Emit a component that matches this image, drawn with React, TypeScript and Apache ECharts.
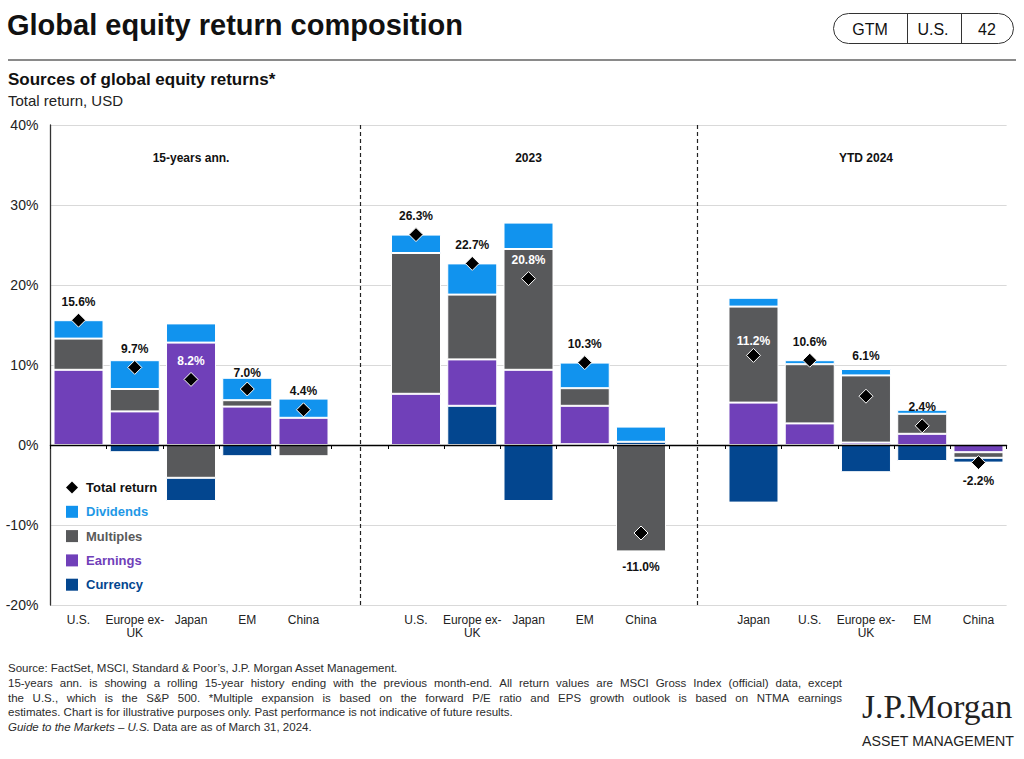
import React, { useEffect, useRef } from 'react';
import * as echarts from 'echarts';

// ---------- data ----------
const groupNames = ['15-years ann.', '2023', 'YTD 2024'];
const cats15 = ['U.S.', 'Europe ex-\nUK', 'Japan', 'EM', 'China'];
const cats2023 = ['U.S.', 'Europe ex-\nUK', 'Japan', 'EM', 'China'];
const catsYTD = ['Japan', 'U.S.', 'Europe ex-\nUK', 'EM', 'China'];

const currency15 = [0, -0.9, -2.9, -1.4, 0];
const earnings15 = [9.4, 4.2, 12.8, 4.8, 3.4];
const multiples15 = [3.9, 2.8, -4.1, 0.8, -1.4];
const dividends15 = [2.3, 3.6, 2.4, 2.8, 2.4];
const total15 = [15.6, 9.7, 8.2, 7.0, 4.4];

const currency2023 = [0, 4.9, -7.0, 0.1, 0.4];
const earnings2023 = [6.4, 5.8, 9.4, 4.8, 0];
const multiples2023 = [17.6, 8.1, 15.1, 2.2, -13.3];
const dividends2023 = [2.3, 3.9, 3.3, 3.2, 1.9];
const total2023 = [26.3, 22.7, 20.8, 10.3, -11.0];

const currencyYTD = [-7.2, 0, -3.4, -2.0, -0.6];
const earningsYTD = [5.3, 2.7, 0.3, 1.4, -0.9];
const multiplesYTD = [12.0, 7.4, 8.4, 2.5, -0.7];
const dividendsYTD = [1.1, 0.5, 0.8, 0.5, 0];
const totalYTD = [11.2, 10.6, 6.1, 2.4, -2.2];

const yMin = -20;
const yMax = 40;
const yStep = 10;

const footerLines = [
  'Source: FactSet, MSCI, Standard & Poor\u2019s, J.P. Morgan Asset Management.',
  '15-years ann. is showing a rolling 15-year history ending with the previous month-end. All return values are MSCI Gross Index (official) data, except',
  'the U.S., which is the S&P 500. *Multiple expansion is based on the forward P/E ratio and EPS growth outlook is based on NTMA earnings',
  'estimates. Chart is for illustrative purposes only. Past performance is not indicative of future results.',
];
const footerItalic = 'Guide to the Markets \u2013 U.S.';
const footerTail = ' Data are as of March 31, 2024.';

// ---------- helpers ----------
function joinGroups<T>(a: T[], b: T[], c: T[], blank: T): T[] {
  return [...a, blank, ...b, blank, ...c];
}
const nz = (arr: (number | null)[]) => arr.map((v) => (v == null || v === 0 ? null : v));
const posOnly = (arr: (number | null)[]) => arr.map((v) => (v == null || v <= 0 ? null : v));
const negOnly = (arr: (number | null)[]) => arr.map((v) => (v == null || v >= 0 ? null : v));

const C_DIV = '#1193ee';
const C_MUL = '#58595b';
const C_EARN = '#7040b9';
const C_CUR = '#03468f';
const FONT = '"Liberation Sans", Arial, sans-serif';

export default function App() {
  const ref = useRef<HTMLDivElement>(null);

  useEffect(() => {
    if (!ref.current) return;
    const chart = echarts.init(ref.current, undefined, { renderer: 'svg' });

    const labels = joinGroups(cats15, cats2023, catsYTD, '');
    const keys = labels.map((_, i) => 'c' + i);
    const currency = joinGroups<number | null>(currency15, currency2023, currencyYTD, null);
    const earnings = joinGroups<number | null>(earnings15, earnings2023, earningsYTD, null);
    const multiples = joinGroups<number | null>(multiples15, multiples2023, multiplesYTD, null);
    const dividends = joinGroups<number | null>(dividends15, dividends2023, dividendsYTD, null);
    const totals = joinGroups<number | null>(total15, total2023, totalYTD, null);

    // label tweaks per category index
    const labelOverride: Record<number, any> = {
      2: { color: '#ffffff' },
      3: { distance: 3 },
      8: { color: '#ffffff' },
      10: { position: 'bottom', distance: 20 },
      12: { color: '#ffffff', distance: 1 },
      14: { distance: 27 },
      16: { position: 'bottom', distance: 5 },
    };

    const barBase = {
      type: 'bar',
      stack: 'ret',
      barWidth: 50,
      xAxisIndex: 0,
      itemStyle: { borderColor: '#ffffff', borderWidth: 1 },
      emphasis: { disabled: true },
    };

    // justified footer words
    const canvas = document.createElement('canvas');
    const ctx = canvas.getContext('2d')!;
    const footSize = 11.5;
    ctx.font = `${footSize}px "Liberation Sans"`;
    const footX = 8;
    const footRight = 842;
    const footY = [668, 683, 697.5, 712];
    const footerEls: any[] = [];
    footerLines.forEach((line, li) => {
      const justify = li === 1 || li === 2;
      if (!justify) {
        footerEls.push({
          type: 'text', x: footX, y: footY[li],
          style: { text: line, font: `${footSize}px ${FONT}`, fill: '#2b2b2b', verticalAlign: 'middle', textVerticalAlign: 'middle' },
        });
        return;
      }
      const words = line.split(' ');
      const widths = words.map((w) => ctx.measureText(w).width);
      const sum = widths.reduce((a, b) => a + b, 0);
      const gap = Math.max(2, (footRight - footX - sum) / (words.length - 1));
      let x = footX;
      words.forEach((w, wi) => {
        footerEls.push({
          type: 'text', x, y: footY[li],
          style: { text: w, font: `${footSize}px ${FONT}`, fill: '#2b2b2b', verticalAlign: 'middle', textVerticalAlign: 'middle' },
        });
        x += widths[wi] + gap;
      });
    });
    footerEls.push({
      type: 'text', x: footX, y: 727,
      style: {
        text: `{i|${footerItalic}}{n|${footerTail}}`,
        fill: '#2b2b2b',
        verticalAlign: 'middle', textVerticalAlign: 'middle',
        rich: {
          i: { font: `italic ${footSize}px ${FONT}`, fill: '#2b2b2b' },
          n: { font: `${footSize}px ${FONT}`, fill: '#2b2b2b' },
        },
      },
    });

    const option: any = {
      animation: false,
      grid: { left: 50.4, right: 17.4, top: 125, bottom: 154, containLabel: false },
      legend: {
        orient: 'vertical',
        left: 61,
        top: 476,
        itemWidth: 12,
        itemHeight: 12,
        itemGap: 11.3,
        selectedMode: false,
        itemStyle: { borderWidth: 0 },
        textStyle: { fontFamily: FONT, fontSize: 13, fontWeight: 'bold', padding: [0, 0, 0, 3] },
        data: [
          { name: 'Total return', icon: 'diamond', itemStyle: { color: '#000' }, textStyle: { color: '#111' } },
          { name: 'Dividends', icon: 'rect', textStyle: { color: '#1e98e6' } },
          { name: 'Multiples', icon: 'rect', textStyle: { color: '#5a5a5a' } },
          { name: 'Earnings', icon: 'rect', textStyle: { color: C_EARN } },
          { name: 'Currency', icon: 'rect', textStyle: { color: C_CUR } },
        ],
      },
      xAxis: [
        {
          type: 'category',
          data: keys,
          position: 'bottom',
          axisLine: { show: true, onZero: true, lineStyle: { color: '#000', width: 1.3 } },
          axisTick: { show: true, length: 4, lineStyle: { color: '#000' } },
          axisLabel: { show: false },
          splitLine: { show: false },
          z: 5,
        },
        {
          type: 'category',
          data: keys,
          position: 'bottom',
          axisLine: { show: false, onZero: false },
          axisTick: { show: false },
          axisLabel: {
            show: true,
            interval: 0,
            margin: 8,
            fontFamily: FONT,
            fontSize: 12,
            lineHeight: 13,
            color: '#222',
            formatter: (v: string) => labels[Number(v.slice(1))],
          },
        },
      ],
      yAxis: {
        type: 'value',
        min: yMin,
        max: yMax,
        interval: yStep,
        axisLine: { show: true, lineStyle: { color: '#333', width: 1.3 } },
        axisTick: { show: false },
        axisLabel: { fontFamily: FONT, fontSize: 14, color: '#222', margin: 12, formatter: '{value}%' },
        splitLine: { show: true, lineStyle: { color: '#d9d9d9', width: 1 } },
      },
      series: [
        {
          ...barBase, name: 'Currency', data: posOnly(currency), itemStyle: { ...barBase.itemStyle, color: C_CUR },
          markLine: {
            silent: true,
            symbol: ['none', 'none'],
            label: { show: false },
            lineStyle: { type: [4, 3], color: '#222', width: 1.2 },
            data: [{ xAxis: 5 }, { xAxis: 11 }],
          },
        },
        { ...barBase, name: 'Earnings', data: nz(earnings), itemStyle: { ...barBase.itemStyle, color: C_EARN } },
        { ...barBase, name: 'Multiples', data: nz(multiples), itemStyle: { ...barBase.itemStyle, color: C_MUL } },
        { ...barBase, name: 'Dividends', data: nz(dividends), itemStyle: { ...barBase.itemStyle, color: C_DIV } },
        { ...barBase, name: 'Currency', data: negOnly(currency), itemStyle: { ...barBase.itemStyle, color: C_CUR } },
        {
          type: 'scatter',
          name: 'Total return',
          xAxisIndex: 0,
          symbol: 'diamond',
          symbolSize: 14,
          z: 4,
          itemStyle: { color: '#000', borderColor: '#fff', borderWidth: 1, opacity: 1 },
          emphasis: { disabled: true },
          label: {
            show: true,
            position: 'top',
            distance: 5,
            fontFamily: FONT,
            fontSize: 12,
            fontWeight: 'bold',
            color: '#111',
            formatter: (p: any) => Number(p.value).toFixed(1) + '%',
          },
          data: totals.map((v, i) => (v == null ? null : { value: v, label: labelOverride[i] || {} })),
          markPoint: {
            silent: true,
            symbol: 'circle',
            symbolSize: 0,
            label: { show: true, position: 'inside', formatter: '{b}', fontFamily: FONT, fontSize: 12, fontWeight: 'bold', color: '#111' },
            data: groupNames.map((n, g) => ({ name: n, coord: [2 + g * 6, 35.9] })),
          },
        },
      ],
      graphic: [
        {
          type: 'text', x: 7, y: 25,
          style: { text: 'Global equity return composition', font: `bold 29px ${FONT}`, fill: '#111', verticalAlign: 'middle', textVerticalAlign: 'middle' },
        },
        { type: 'line', shape: { x1: 8, y1: 60, x2: 1016, y2: 60 }, style: { stroke: '#8a8a8a', lineWidth: 2 } },
        { type: 'rect', shape: { x: 833.5, y: 13.5, width: 180, height: 30, r: 15 }, style: { fill: 'none', stroke: '#333', lineWidth: 1 } },
        { type: 'line', shape: { x1: 907.5, y1: 13.5, x2: 907.5, y2: 43.5 }, style: { stroke: '#333', lineWidth: 1 } },
        { type: 'line', shape: { x1: 961.5, y1: 13.5, x2: 961.5, y2: 43.5 }, style: { stroke: '#333', lineWidth: 1 } },
        { type: 'text', x: 870, y: 29, style: { text: 'GTM', font: `16px ${FONT}`, fill: '#111', align: 'center', textAlign: 'center', verticalAlign: 'middle', textVerticalAlign: 'middle' } },
        { type: 'text', x: 933, y: 29, style: { text: 'U.S.', font: `16px ${FONT}`, fill: '#111', align: 'center', textAlign: 'center', verticalAlign: 'middle', textVerticalAlign: 'middle' } },
        { type: 'text', x: 987, y: 29, style: { text: '42', font: `16px ${FONT}`, fill: '#111', align: 'center', textAlign: 'center', verticalAlign: 'middle', textVerticalAlign: 'middle' } },
        {
          type: 'text', x: 8, y: 79,
          style: { text: 'Sources of global equity returns*', font: `bold 17px ${FONT}`, fill: '#111', verticalAlign: 'middle', textVerticalAlign: 'middle' },
        },
        {
          type: 'text', x: 8, y: 100,
          style: { text: 'Total return, USD', font: `15px ${FONT}`, fill: '#222', verticalAlign: 'middle', textVerticalAlign: 'middle' },
        },
        ...footerEls,
        {
          type: 'text', x: 862, y: 706,
          style: { text: 'J.P.Morgan', font: `33.5px "Liberation Serif", "Times New Roman", serif`, fill: '#222', verticalAlign: 'middle', textVerticalAlign: 'middle' },
        },
        {
          type: 'text', x: 862, y: 741,
          style: { text: 'ASSET MANAGEMENT', font: `14.2px ${FONT}`, fill: '#222', verticalAlign: 'middle', textVerticalAlign: 'middle' },
        },
      ],
    };

    chart.setOption(option);
    return () => chart.dispose();
  }, []);

  return (
    <div
      ref={ref}
      style={{ position: 'fixed', left: 0, top: 0, width: 1024, height: 759, background: '#ffffff' }}
    />
  );
}
